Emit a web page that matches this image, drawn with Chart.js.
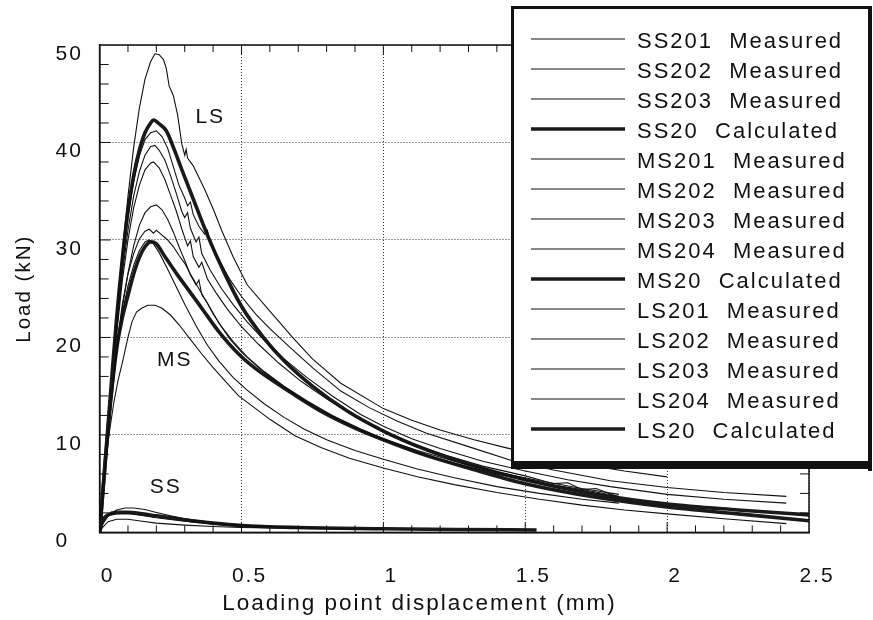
<!DOCTYPE html>
<html><head><meta charset="utf-8">
<script src="https://cdn.jsdelivr.net/npm/chart.js@4.4.1/dist/chart.umd.min.js"></script>
<style>html,body{margin:0;padding:0;background:#fff;}canvas{display:block;}</style>
</head><body>
<canvas id="c" width="873" height="620"></canvas>
<script>
// ---- data (x: displacement mm, y: load kN) ----
const SS201 = [[0,0],[0.01,0.8],[0.03,1.7],[0.06,2.3],[0.09,2.5],[0.12,2.5],[0.16,2.35],[0.2,2.05],[0.25,1.7],[0.3,1.4],[0.4,1.0],[0.5,0.75],[0.65,0.55],[0.8,0.45]];
const SS202 = [[0,0],[0.01,1.0],[0.03,1.7],[0.06,1.9],[0.1,1.95],[0.15,1.75],[0.2,1.5],[0.3,1.15],[0.4,0.85],[0.5,0.65],[0.7,0.45],[1.0,0.35]];
const SS203 = [[0,0],[0.01,0.5],[0.03,1.1],[0.06,1.35],[0.1,1.35],[0.15,1.15],[0.2,0.95],[0.3,0.75],[0.4,0.6],[0.5,0.5],[0.7,0.4],[1.0,0.3]];
const SS20calc = [[0,0],[0.01,1.2],[0.03,1.8],[0.06,2.05],[0.1,2.05],[0.15,1.9],[0.2,1.7],[0.3,1.3],[0.4,0.95],[0.5,0.7],[0.7,0.5],[1.0,0.38],[1.25,0.3],[1.54,0.25]];
const MS201 = [[0,0],[0.02,6.5],[0.04,12.8],[0.06,18.5],[0.08,23],[0.1,26.6],[0.12,29.4],[0.14,31.5],[0.16,32.8],[0.18,33.4],[0.2,33.6],[0.22,33.1],[0.24,32.1],[0.26,30.8],[0.28,29.3],[0.3,27.9],[0.32,26.4],[0.34,25.4],[0.35,25.9],[0.36,24.4],[0.38,23.5],[0.4,22.4],[0.43,21.1],[0.47,19.6],[0.52,18],[0.58,16.5],[0.65,15],[0.73,13.5],[0.82,12],[0.92,10.6],[1.0,9.6],[1.12,8.4],[1.25,7.3],[1.4,6.2],[1.55,5.3],[1.7,4.5],[1.83,3.9]];
const MS202 = [[0,0],[0.02,6.8],[0.04,13.4],[0.06,19],[0.08,23.4],[0.1,26.5],[0.12,28.6],[0.14,30.1],[0.16,30.9],[0.175,31.1],[0.19,30.7],[0.2,31],[0.22,30.5],[0.24,30],[0.26,29.3],[0.28,28.4],[0.3,27.6],[0.32,26.5],[0.35,25],[0.38,23.5],[0.42,21.5],[0.46,19.8],[0.5,18.5],[0.56,16.9],[0.63,15.3],[0.7,13.9],[0.78,12.5],[0.88,11],[1.0,9.5],[1.12,8.2],[1.25,7.1],[1.4,6],[1.55,5.1],[1.7,4.4],[1.83,3.7]];
const MS203 = [[0,0],[0.02,7],[0.04,13.5],[0.06,18.6],[0.08,22.5],[0.1,25.3],[0.12,27.4],[0.14,28.9],[0.16,29.8],[0.175,30],[0.19,29.6],[0.21,28.7],[0.24,27],[0.27,25.2],[0.3,23.4],[0.34,21.2],[0.38,19.2],[0.42,17.6],[0.47,15.9],[0.52,14.6],[0.58,13.2],[0.65,11.8],[0.72,10.6],[0.8,9.5],[0.9,8.4],[1.0,7.5],[1.12,6.5],[1.25,5.6],[1.4,4.7],[1.55,4.0],[1.7,3.4],[1.83,3.0]];
const MS204 = [[0,0],[0.01,3.8],[0.02,7],[0.034,10.2],[0.05,13.3],[0.065,15.6],[0.08,17.4],[0.1,20],[0.114,21.6],[0.13,22.6],[0.148,23],[0.17,23.3],[0.196,23.3],[0.22,23],[0.25,22.3],[0.28,21.3],[0.32,19.8],[0.36,18.3],[0.4,16.9],[0.45,15.3],[0.49,14],[0.55,12.7],[0.6,11.6],[0.69,9.9],[0.78,8.7],[0.88,7.6],[1.0,6.6],[1.12,5.7],[1.25,4.9],[1.4,4.1],[1.55,3.4],[1.7,2.8],[1.85,2.3],[2.0,1.9],[2.2,1.4],[2.42,0.9]];
const MS20calc = [[0,0],[0.02,7.2],[0.04,13.8],[0.06,18.8],[0.08,22],[0.1,24.3],[0.12,26.5],[0.14,28.2],[0.16,29.3],[0.18,29.8],[0.2,29.6],[0.23,28.3],[0.27,26.6],[0.32,24.6],[0.36,23.0],[0.42,20.6],[0.49,18.3],[0.55,16.8],[0.65,14.8],[0.77,12.6],[0.9,10.7],[1.0,9.5],[1.15,7.9],[1.3,6.6],[1.5,5.0],[1.75,3.6],[2.0,2.6],[2.25,1.9],[2.5,1.2]];
const LS201 = [[0,0],[0.02,7],[0.04,14.5],[0.06,22],[0.08,28.8],[0.1,34.5],[0.12,39.5],[0.14,43.5],[0.16,46.5],[0.18,48.3],[0.195,49.1],[0.21,49],[0.225,48.5],[0.235,47.6],[0.245,45.8],[0.26,44.8],[0.275,42.8],[0.29,39.8],[0.3,38.7],[0.305,39.3],[0.31,38.4],[0.33,37.6],[0.35,36.4],[0.37,35.2],[0.4,33.2],[0.43,31],[0.47,28.3],[0.52,25.4],[0.6,22.7],[0.68,20],[0.75,17.8],[0.85,15.3],[1.0,12.7],[1.1,11.5],[1.2,10.5],[1.32,9.5],[1.43,8.7],[1.55,7.9],[1.7,7.0],[1.85,6.3],[2.0,5.7]];
const LS202 = [[0,0],[0.02,7],[0.04,14.2],[0.06,21.3],[0.08,27.5],[0.1,32.3],[0.12,36],[0.14,38.6],[0.16,40.3],[0.18,41],[0.2,41.2],[0.22,40.6],[0.24,39.4],[0.26,37.5],[0.28,35.6],[0.3,34.3],[0.31,33.5],[0.32,33.9],[0.33,32.6],[0.35,31.4],[0.37,30.6],[0.38,31],[0.39,29.6],[0.42,28],[0.46,25.9],[0.5,24.2],[0.55,22.4],[0.6,20.9],[0.67,19],[0.75,16.9],[0.85,14.5],[0.95,12.8],[1.05,11.4],[1.15,10.2],[1.3,8.8],[1.46,7.3],[1.6,6.4],[1.8,5.3],[2.0,4.6],[2.2,4.1],[2.42,3.7]];
const LS203 = [[0,0],[0.02,6.9],[0.04,14],[0.06,20.8],[0.08,26.6],[0.1,31],[0.12,34.5],[0.14,37],[0.16,38.7],[0.18,39.6],[0.195,39.7],[0.21,39.2],[0.23,38.2],[0.25,36.6],[0.27,34.8],[0.29,32.9],[0.3,32.3],[0.31,32.8],[0.32,31.2],[0.34,29.8],[0.35,30.3],[0.36,28.6],[0.39,26.9],[0.43,25],[0.47,23.4],[0.52,21.6],[0.58,19.7],[0.65,17.8],[0.73,15.9],[0.82,14],[0.92,12.1],[1.0,10.9],[1.1,9.6],[1.2,8.6],[1.35,7.3],[1.5,6.3],[1.65,5.4],[1.8,4.7],[2.0,3.9],[2.2,3.4],[2.42,3.0]];
const LS204 = [[0,0],[0.02,6.8],[0.04,13.7],[0.06,20.3],[0.08,25.8],[0.1,30],[0.12,33.3],[0.14,35.6],[0.16,37.2],[0.18,37.9],[0.19,38],[0.21,37.4],[0.23,36.2],[0.25,34.6],[0.27,33],[0.29,31.1],[0.31,29.4],[0.32,29.9],[0.33,28.3],[0.35,27.2],[0.36,27.7],[0.38,26],[0.41,24.6],[0.45,22.9],[0.5,21.1],[0.56,19.3],[0.63,17.4],[0.71,15.5],[0.8,13.7],[0.9,11.9],[1.0,10.3],[1.1,9.1],[1.22,7.9],[1.35,6.8],[1.5,5.8],[1.6,5.0],[1.65,5.1],[1.7,4.4],[1.75,4.5],[1.83,3.6]];
const LS20calc = [[0,0],[0.02,7.4],[0.04,14.8],[0.06,22],[0.08,28],[0.1,33],[0.12,36.6],[0.14,39.2],[0.16,41],[0.18,42],[0.19,42.3],[0.21,41.9],[0.235,41.2],[0.26,39.5],[0.29,37.2],[0.33,34.2],[0.38,30.5],[0.44,26.6],[0.5,23.2],[0.58,19.9],[0.65,17.6],[0.75,15.0],[0.87,12.5],[1.0,10.4],[1.15,8.5],[1.3,7.0],[1.5,5.4],[1.75,3.9],[2.0,2.9],[2.25,2.3],[2.5,1.8]];

const seriesLabels = ['SS201  Measured','SS202  Measured','SS203  Measured','SS20  Calculated','MS201  Measured','MS202  Measured','MS203  Measured','MS204  Measured','MS20  Calculated','LS201  Measured','LS202  Measured','LS203  Measured','LS204  Measured','LS20  Calculated'];
const seriesData = [SS201, SS202, SS203, SS20calc, MS201, MS202, MS203, MS204, MS20calc, LS201, LS202, LS203, LS204, LS20calc];
const seriesCalculated = [false,false,false,true,false,false,false,false,true,false,false,false,false,true];

const xTickLabels = ['0','0.5','1','1.5','2','2.5'];
const yTickLabels = ['0','10','20','30','40','50'];

const groupLabels = ['LS','MS','SS'];
const groupLabelX = [0.39, 0.265, 0.233];
const groupLabelY = [42.6, 17.7, 4.6];

// ---- chart ----
Chart.defaults.font.family = "'Liberation Sans', Arial, Helvetica, sans-serif";
Chart.defaults.color = '#111';
const INK = '#111';

const datasets = seriesData.map((pts, i) => ({
  label: seriesLabels[i],
  data: pts.map(p => ({x: p[0], y: p[1]})),
  borderColor: seriesCalculated[i] ? '#1a1a1a' : INK,
  borderWidth: seriesCalculated[i] ? 3.6 : 1.1,
  pointRadius: 0,
  fill: false,
  tension: 0,
  cubicInterpolationMode: seriesCalculated[i] ? 'monotone' : 'default',
  yAxisID: 'y'
}));

const spacingPlugin = {
  id: 'spacing',
  beforeLayout(chart) { chart.ctx.letterSpacing = '2px'; },
  beforeDraw(chart) { chart.ctx.letterSpacing = '2px'; }
};

const framePlugin = {
  id: 'frame',
  afterDatasetsDraw(chart) {
    const {ctx, chartArea: a} = chart;
    const x = chart.scales.x, y = chart.scales.y;
    ctx.save();
    ctx.setLineDash([]);
    ctx.strokeStyle = INK;
    ctx.lineWidth = 1.5;
    ctx.strokeRect(a.left, a.top, a.right - a.left, a.bottom - a.top);
    ctx.lineWidth = 1;
    ctx.beginPath();
    for (let i = 1; i < 25; i++) {
      const px = x.getPixelForValue(i / 10);
      const len = (i % 5 === 0) ? 10 : 7;
      ctx.moveTo(px, a.bottom); ctx.lineTo(px, a.bottom - len);
      ctx.moveTo(px, a.top); ctx.lineTo(px, a.top + len);
    }
    for (let i = 1; i < 25; i++) {
      const py = y.getPixelForValue(i * 2);
      const len = (i % 5 === 0) ? 11 : 9;
      ctx.moveTo(a.left, py); ctx.lineTo(a.left + len, py);
      ctx.moveTo(a.right, py); ctx.lineTo(a.right - len, py);
    }
    ctx.stroke();
    ctx.fillStyle = INK;
    ctx.font = "21px 'Liberation Sans', Arial, sans-serif";
    ctx.textAlign = 'center';
    ctx.textBaseline = 'middle';
    groupLabels.forEach((t, i) => {
      ctx.fillText(t, x.getPixelForValue(groupLabelX[i]), y.getPixelForValue(groupLabelY[i]));
    });
    ctx.restore();
  }
};

const boxLegendPlugin = {
  id: 'boxLegend',
  afterDraw(chart) {
    const ctx = chart.ctx;
    const L = 512, T = 7, R = 870, B = 466;
    ctx.save();
    ctx.setLineDash([]);
    ctx.fillStyle = '#fff';
    ctx.fillRect(L, T, R - L, B - T);
    ctx.fillStyle = '#111';
    ctx.fillRect(L - 1, T - 1, 3, B - T + 4);
    ctx.fillRect(L - 1, T - 1, R - L + 3, 3);
    ctx.fillRect(R - 2, T - 1, 4, B - T + 6);
    ctx.fillRect(L - 1, B - 5, R - L + 3, 8);
    ctx.font = "22px 'Liberation Sans', Arial, sans-serif";
    ctx.textAlign = 'left';
    ctx.textBaseline = 'alphabetic';
    chart.data.datasets.forEach((ds, i) => {
      const base = 48 + 30 * i;
      const ly = base - 9;
      ctx.strokeStyle = ds.borderColor;
      ctx.lineWidth = ds.borderWidth;
      ctx.beginPath();
      ctx.moveTo(531, ly); ctx.lineTo(625, ly);
      ctx.stroke();
      ctx.fillStyle = INK;
      ctx.fillText(ds.label, 637, base);
    });
    ctx.restore();
  }
};

new Chart(document.getElementById('c'), {
  type: 'line',
  data: {datasets},
  options: {
    responsive: false,
    animation: false,
    devicePixelRatio: 1,
    layout: {padding: {top: 45, right: 34, bottom: 0, left: 0}},
    plugins: {
      legend: {display: false},
      tooltip: {enabled: false},
      title: {
        display: true, text: 'Load (kN)', position: 'left', fullSize: false,
        color: INK, font: {size: 20.5, weight: 'normal'}, padding: {top: 12, bottom: 19}
      },
      subtitle: {
        display: true, text: 'Loading point displacement (mm)', position: 'bottom', fullSize: true,
        color: INK, font: {size: 22.5, weight: 'normal'}, padding: {top: 0, bottom: 3}
      }
    },
    scales: {
      x: {
        type: 'linear', position: 'bottom', min: 0, max: 2.5,
        ticks: {stepSize: 0.5, autoSkip: false, maxRotation: 0, color: INK,
          font: {size: 21}, padding: 31, labelOffset: 8,
          callback: (v, i) => xTickLabels[i]},
        grid: {color: '#333', lineWidth: 1, drawTicks: false},
        border: {display: true, color: INK, width: 1.5, dash: [1, 2]},
        afterFit: s => { s.height = 57.6; }
      },
      y: {
        type: 'linear', position: 'left', min: 0, max: 50,
        ticks: {stepSize: 10, color: INK, font: {size: 21}, labelOffset: 9,
          crossAlign: 'far', padding: 4,
          callback: (v, i) => yTickLabels[i]},
        grid: {color: '#333', lineWidth: 1, drawTicks: false},
        border: {display: true, color: INK, width: 1.5, dash: [1, 2]},
        afterFit: s => { s.width = 44; }
      },
      yRight: {
        type: 'linear', position: 'right', min: 0, max: 50,
        ticks: {display: false},
        grid: {display: false, drawOnChartArea: false, drawTicks: false},
        border: {display: false},
        afterFit: s => { s.width = 30; }
      }
    }
  },
  plugins: [spacingPlugin, framePlugin, boxLegendPlugin]
});
</script>
</body></html>
